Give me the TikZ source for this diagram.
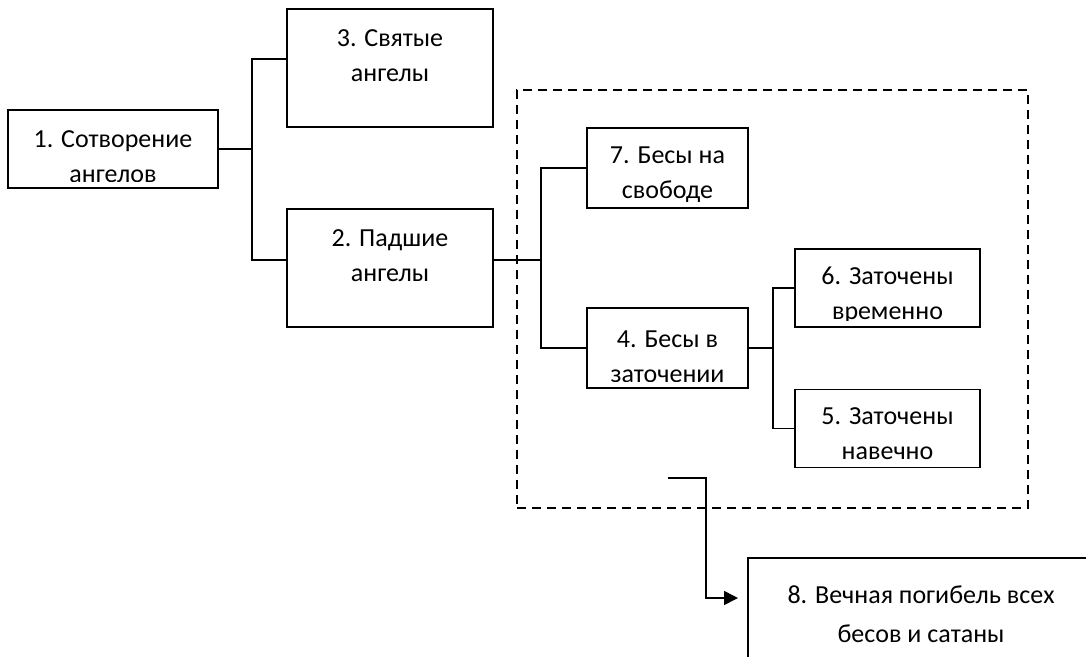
\documentclass[tikz,border=0pt]{standalone}
\usepackage{fontspec}
\setmainfont{Carlito}
\usetikzlibrary{arrows.meta}

\tikzset{
  blok/.style={draw, line width=1.6pt, inner sep=0pt},
  tekst/.style={anchor=north, align=center, inner sep=0pt, font=\fontsize{26}{35}\selectfont},
  svyaz/.style={line width=1.6pt}
}
\newcommand{\vblok}[4]{%
  \begin{scope}
    \clip ([shift={(3pt,7pt)}]#2.south west) rectangle ([shift={(-3pt,-3pt)}]#2.north east);
    \node[tekst] (#1) at ([yshift=#3]#2.north) {#4};
  \end{scope}}

\begin{document}
\begin{tikzpicture}[x=1pt, y=-1pt]
        \useasboundingbox (0,0) rectangle (1086,656);
        \clip (0,0) rectangle (1086,656);
        \node[blok, minimum width=210pt, minimum height=78pt] (b1) at (113,149) {};
        \node[blok, minimum width=206pt, minimum height=118pt] (b3) at (390,68) {};
        \node[blok, minimum width=206pt, minimum height=118pt] (b2) at (390,268) {};
        \node[draw, line width=1.6pt, dash pattern=on 9pt off 6pt,
              minimum width=511pt, minimum height=418pt] (ramka) at (772.5,299) {};
        \node[blok, minimum width=161pt, minimum height=80pt] (b7) at (667.5,168) {};
        \node[blok, minimum width=161pt, minimum height=80pt] (b4) at (667.5,348) {};
        \node[blok, minimum width=185pt, minimum height=78pt] (b6) at (887.5,288) {};
        \node[blok, minimum width=185pt, minimum height=78pt] (b5) at (887.5,428.5) {};
        \node[blok, minimum width=346pt, minimum height=142pt] (b8) at (921,629) {};
        \vblok{t1}{b1}{-21pt}{1. Сотворение\\ангелов}
        \vblok{t3}{b3}{-21pt}{3. Святые\\ангелы}
        \vblok{t2}{b2}{-21pt}{2. Падшие\\ангелы}
        \vblok{t7}{b7}{-19pt}{7. Бесы на\\свободе}
        \vblok{t4}{b4}{-23pt}{4. Бесы в\\заточении}
        \vblok{t6}{b6}{-19pt}{6. Заточены\\временно}
        \vblok{t5}{b5}{-19pt}{5. Заточены\\навечно}
        \node[tekst, font=\fontsize{26}{39}\selectfont] (t8) at ([yshift=-28pt]b8.north)
              {8. Вечная погибель всех\\бесов и сатаны};
        \draw[svyaz] (b1.east) -- ++(33,0) coordinate (r1);
        \draw[svyaz] ([yshift=9pt]b3.west) -| (r1) |- ([yshift=8pt]b2.west);
        \draw[svyaz] ([yshift=8pt]b2.east) -- ++(47,0) coordinate (r2);
        \draw[svyaz] (b7.west) -| (r2) |- (b4.west);
        \draw[svyaz] (b4.east) -- ++(24,0) coordinate (r3);
        \draw[svyaz] (b6.west) -| (r3) |- (b5.west);
        \coordinate (s) at (668,478);
        \coordinate (e) at (738,598);
        \draw[svyaz, -{Triangle[length=14pt,width=14pt]}] (s) -- ++(38,0) |- (e);
    \end{tikzpicture}
\end{document}
